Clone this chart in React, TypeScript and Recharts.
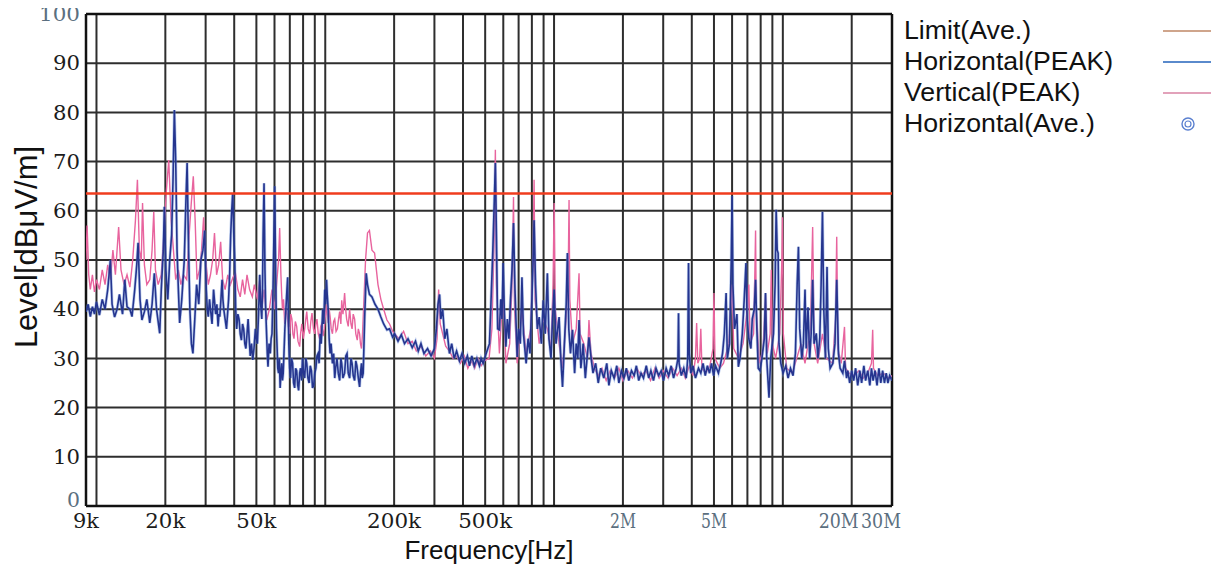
import { CartesianGrid, Line, LineChart, ReferenceLine, XAxis, YAxis } from 'recharts';

// Frequency axis in kHz, level in dBµV/m.
const tickFreqs = [9, 20, 50, 200, 500, 2000, 5000, 20000, 30000];
const tickLabels = ['9k', '20k', '50k', '200k', '500k', '2M', '5M', '20M', '30M'];
const levelTicks = [0, 10, 20, 30, 40, 50, 60, 70, 80, 90, 100];
const gridFreqs = [
  10, 20, 30, 40, 50, 60, 70, 80, 90,
  100, 200, 300, 400, 500, 600, 700, 800, 900,
  1000, 2000, 3000, 4000, 5000, 6000, 7000, 8000, 9000,
  10000, 20000,
];
const limitLevel = 63.5;
const legendNames = ['Limit(Ave.)', 'Horizontal(PEAK)', 'Vertical(PEAK)', 'Horizontal(Ave.)'];

// Horizontal (PEAK) trace, [kHz, dB]
const hLow: [number, number][] = [
  [9.0, 39.5], [9.2, 41], [9.4, 38.5], [9.6, 40.5], [9.8, 39], [10.0, 41.5], [10.3, 38.8], [10.6, 42],
  [10.9, 40], [11.2, 44], [11.5, 50], [11.7, 41], [12.0, 38.4], [12.3, 40], [12.6, 43], [13.0, 39],
  [13.3, 46], [13.6, 40.5], [14.0, 40], [14.3, 38.5], [14.7, 44], [15.0, 49], [15.2, 53.5], [15.5, 42],
  [15.8, 37.8], [16.2, 39.5], [16.6, 42], [17.1, 37.2], [17.5, 41], [17.9, 47.3], [18.3, 40], [18.9, 35.1],
  [19.2, 44], [19.6, 52], [19.8, 60.8], [20.1, 48], [20.5, 42], [20.9, 50], [21.3, 55], [21.6, 66],
  [21.9, 80.5], [22.2, 70], [22.5, 52], [22.8, 44], [23.1, 37.2], [23.6, 42], [24.2, 50], [24.6, 62],
  [24.9, 69.7], [25.2, 55], [25.6, 40], [26.0, 33], [26.4, 31], [26.9, 38], [27.4, 45], [28.0, 41],
  [28.6, 50], [29.2, 52], [29.7, 56], [30.2, 44], [30.5, 40], [30.8, 38.5], [31.2, 42], [31.5, 40],
  [32.0, 37], [32.5, 44], [32.9, 41], [33.2, 39], [33.6, 41], [34.0, 36.5], [34.3, 39], [34.6, 38.5],
  [35.0, 42], [35.4, 46], [35.7, 42], [36.0, 40], [36.5, 38], [37.0, 36], [37.4, 39], [37.8, 42],
  [38.2, 47], [38.6, 55], [39.0, 60], [39.4, 63.6], [39.8, 56], [40.2, 50], [40.6, 40], [41.0, 36],
  [41.5, 39], [42.0, 38], [42.5, 35], [43.0, 33.7], [43.5, 37], [44.0, 36], [44.5, 33], [45.0, 32],
  [45.5, 35], [46.0, 38], [46.5, 34], [47.0, 30.5], [47.6, 33], [48.2, 29.7], [48.8, 32], [49.5, 36],
  [50.0, 34], [50.5, 33], [51.1, 39], [51.7, 47], [52.2, 41], [52.8, 38], [53.2, 45], [53.5, 55],
  [54.0, 65.6], [54.5, 48], [54.9, 40], [55.3, 36], [55.8, 31], [56.2, 28.3], [56.8, 33], [57.5, 31],
  [58.0, 34], [58.5, 35], [59.0, 42], [59.4, 50], [59.8, 58], [60.1, 65], [60.8, 45], [61.2, 36],
  [61.6, 32], [62.0, 28], [62.5, 27], [63.0, 30], [63.5, 24], [64.0, 27], [64.5, 29], [65.0, 25.5],
  [65.5, 27], [66.0, 31], [66.6, 36], [67.3, 40], [68.0, 44], [68.5, 46.5], [69.0, 38], [69.3, 33],
  [69.9, 28], [70.5, 26], [71.2, 30], [72, 29], [72.7, 25], [73.5, 24], [74.2, 28], [75, 27.5],
  [75.8, 24.5], [76.5, 23.5], [77.3, 27], [78, 28], [78.8, 25.5], [79.5, 30], [80.4, 27], [81.3, 26],
  [82.2, 30], [83, 29], [84, 26], [85, 25], [86, 28.5], [87, 27.5], [88, 24], [89, 24.5],
  [90, 27], [91, 28], [92, 30.5], [93, 31], [94, 29], [95, 35], [96, 33], [97.5, 40],
  [98.5, 37], [99.5, 44], [100.4, 41], [101.3, 46], [102, 43], [103, 40], [104, 34], [105, 31],
  [106, 33], [107.5, 29], [108.8, 31], [110, 26], [111, 28], [112.5, 30], [114, 27], [115.6, 25.5],
  [117, 30], [118, 29], [119.5, 26], [121.5, 27], [123, 30.5], [124.5, 31], [126, 27], [127.8, 26],
  [129.5, 30], [131, 29], [132.5, 26.5], [134.4, 25.5], [136, 29.5], [137.5, 28.5], [139.5, 26], [141.3, 24.2],
  [142.5, 27], [144, 29], [145, 26], [146.5, 27], [147.5, 32], [148.6, 38], [151, 47.3], [153, 45],
  [156, 43], [160, 42.5], [165, 41], [170, 40], [175, 38.4], [180, 37], [186, 35.8], [191, 36],
  [197, 34.3],
];

const hMid: [number, number][] = [
  [201, 35], [208, 33.5], [215, 34.8], [222, 33], [230, 34], [240, 32.2], [248, 33.5], [255, 31.5],
  [262, 33], [270, 31], [280, 32], [290, 30.5], [300, 32], [306, 36], [311, 41], [316, 43],
  [320, 38], [326, 40], [333, 34], [340, 36], [349, 31], [357, 33], [366, 30], [375, 31.5],
  [386, 29.5], [396, 31], [407, 29], [418, 30.5], [427, 28.5], [437, 30.5], [448, 28.5], [460, 30],
  [472, 28.5], [480, 30], [490, 29], [505, 31], [522, 33], [530, 41.3], [540, 52], [548, 62],
  [554, 69.7], [560, 55], [567, 36], [577, 35.8], [585, 42], [592, 38], [599, 49.4], [606, 40],
  [616, 32.4], [625, 38], [635, 34], [645, 42], [655, 48], [665, 57.5], [675, 44], [690, 30.3],
  [700, 36], [712, 33], [724, 46.5], [735, 35], [755, 29], [770, 34], [785, 31], [800, 42],
  [810, 50], [818, 58.1], [830, 45], [845, 36], [861, 38.4], [880, 33], [897, 41.8], [915, 35],
  [935, 47.3], [950, 34], [970, 30], [985, 38], [1001, 44], [1020, 33], [1052, 38.4], [1070, 30],
  [1089, 24.2], [1110, 33], [1130, 41], [1144, 51.4], [1160, 36], [1180, 31], [1204, 35.8], [1230, 27],
  [1250, 33], [1270, 30], [1286, 37.8], [1310, 28], [1340, 33], [1370, 26], [1400, 31],
];

const hHigh: [number, number][] = [
  [1421, 34.3], [1450, 30.3], [1480, 27], [1520, 29], [1560, 25], [1600, 28], [1650, 26], [1700, 29],
  [1737, 24.5], [1780, 27.5], [1830, 26], [1880, 28.5], [1920, 25], [1970, 27.5], [2020, 26], [2070, 28],
  [2122, 25.5], [2180, 27.5], [2240, 26.5], [2290, 28.5], [2345, 25.5], [2400, 27], [2460, 26], [2530, 28.5],
  [2593, 26], [2650, 27.5], [2720, 25.5], [2790, 28], [2866, 26.5], [2940, 27.5], [3010, 25.5], [3090, 28],
  [3168, 26.5], [3250, 28.5], [3330, 26], [3420, 28], [3480, 30], [3500, 39.2], [3520, 29], [3600, 26.5],
  [3690, 28], [3780, 26], [3840, 30], [3871, 49.4], [3900, 31], [3960, 27], [4050, 28.5], [4150, 26],
  [4279, 28], [4380, 27], [4480, 29], [4580, 26.5], [4680, 28.5], [4780, 27], [4880, 29], [4980, 26.5],
  [5080, 28.5], [5229, 27], [5350, 29], [5450, 31], [5550, 35], [5650, 43.3], [5720, 30], [5850, 33],
  [5950, 50], [6000, 63], [6050, 45], [6150, 36], [6300, 39], [6390, 28.3], [6500, 30], [6650, 35],
  [6780, 42], [6900, 49.4], [6980, 38], [7100, 34], [7250, 32], [7350, 38], [7500, 40], [7600, 46],
  [7700, 36], [7806, 28], [7950, 27.5], [8100, 30], [8300, 34], [8400, 43.3], [8500, 30], [8700, 22],
  [8850, 30], [9100, 35], [9250, 45], [9350, 60.2], [9450, 52], [9537, 51.4], [9620, 33], [9800, 29],
  [10027, 27], [10300, 28.5], [10542, 26], [10800, 28], [11083, 26.5], [11350, 31], [11550, 45], [11700, 52.7],
  [11850, 36], [12100, 30], [12300, 33], [12500, 44], [12650, 32], [12880, 40.4], [13100, 30], [13300, 35],
  [13500, 46], [13700, 33], [14000, 35.1], [14236, 30], [14500, 34], [14700, 45], [14900, 59.8], [15100, 40],
  [15350, 30], [15600, 48.6], [15800, 32], [16100, 28], [16544, 29], [16900, 33], [17200, 46], [17500, 31],
  [17800, 28], [18286, 27], [18600, 29.5], [19000, 26], [19225, 27.5], [19600, 25], [20000, 27.5], [20400, 25.5],
  [20800, 28], [21250, 24.5], [21700, 27.5], [22100, 25], [22600, 28.5], [23000, 25.5], [23500, 27.5], [24000, 24.5],
  [24400, 28], [24800, 25.5], [25300, 27.5], [25800, 24.5], [26300, 28], [26800, 25], [27300, 27.5], [27800, 25],
  [28300, 27], [28800, 25], [29300, 26.5], [30000, 25.5],
];

// Vertical (PEAK) trace, [kHz, dB]
const vLow: [number, number][] = [
  [9.0, 50], [9.1, 57], [9.25, 47], [9.4, 44], [9.6, 47], [9.8, 43.5], [10.0, 46], [10.3, 44],
  [10.6, 48], [10.9, 45], [11.2, 49], [11.5, 46], [11.8, 52], [12.1, 47], [12.5, 56.7], [12.8, 48],
  [13.2, 45], [13.6, 47], [14.0, 44.5], [14.4, 50], [14.8, 58], [15.1, 66.3], [15.4, 52], [15.7, 50],
  [15.9, 61.6], [16.2, 49], [16.6, 45], [17.1, 46], [17.5, 52], [17.8, 59.8], [18.1, 48], [18.6, 45],
  [19.2, 47], [19.7, 55], [20.2, 64], [20.7, 70.3], [21.2, 58], [21.7, 52], [22.2, 46], [22.8, 48],
  [23.4, 45], [24.0, 47], [24.8, 46], [25.4, 55], [26.0, 62], [26.5, 67], [27.0, 58], [27.5, 46],
  [28.2, 48], [28.8, 52], [29.4, 58.7], [30.0, 50], [30.8, 45], [31.5, 47], [32.2, 50], [32.8, 55.5],
  [33.5, 47], [34.2, 49], [34.9, 53.7], [35.6, 46], [36.5, 44], [37.5, 47], [38.5, 45], [39.5, 46.5],
  [40.5, 47.3], [41.5, 44], [42.5, 42.5], [43.5, 46], [44.5, 43], [45.5, 47], [46.7, 44], [48, 42.5],
  [49, 45], [50.5, 42], [51.7, 46], [52.8, 40], [54, 44], [55.5, 37.8], [57, 40], [58.5, 44],
  [60.1, 40], [61.5, 46], [62.5, 50], [63.2, 56.5], [64, 47], [64.5, 43], [65, 40], [65.7, 42],
  [66.5, 37], [67.2, 40], [68, 39], [69, 36.5], [69.9, 35], [70.7, 39], [71.5, 38], [72.2, 35],
  [73, 34], [74, 37.5], [75, 36.5], [76, 33.5], [77.3, 32.4], [78, 35], [79, 37], [80.2, 34],
  [81.3, 36], [82.2, 38], [83, 39.5], [84.2, 36], [85.5, 35], [86.5, 37.5], [87.5, 39.2], [88.8, 36],
  [90, 35], [91, 37], [92, 38], [93.2, 35], [94.5, 34], [95.5, 36.5], [96.5, 37], [97.8, 34.5],
  [99, 36], [100, 38.5], [101.3, 41], [102, 39], [103, 37.2], [104, 40], [105, 38.5], [106.2, 36],
  [107.5, 35], [108.8, 37.5], [110, 38], [111.5, 35.5], [113, 36], [114.3, 38], [115.6, 39.5], [117, 37],
  [118, 41.8], [119.5, 39], [121.5, 43.3], [122.8, 40], [124, 38], [126, 36.5], [127.8, 40], [129.5, 37],
  [131, 36], [132.5, 39], [134.4, 38], [136, 35], [138, 33.7], [139.5, 36], [141.3, 35], [142.5, 33],
  [144, 32], [145.5, 35], [147, 40], [150, 50], [153, 55.5], [156, 56], [160, 52], [164.3, 51.4],
  [170, 45], [175, 42], [180, 40], [186, 37.8], [191, 37], [197, 35.5],
];

const vMid: [number, number][] = [
  [201, 35], [210, 34], [220, 35.5], [230, 33], [240, 33.5], [250, 31.5], [262, 32.5], [275, 30.5],
  [288, 31.5], [300, 30], [308, 34], [313, 44], [318, 37], [326, 35], [336, 32.5], [349, 31.5],
  [362, 30], [375, 30.5], [390, 29], [405, 30.5], [420, 28], [435, 29.5], [450, 28], [465, 30],
  [480, 28.5], [495, 29.5], [520, 30], [535, 36], [548, 55], [554, 72.4], [560, 45], [577, 31],
  [599, 44], [616, 29], [640, 33], [655, 45], [665, 62.8], [672, 40], [690, 29], [724, 40],
  [755, 31], [790, 36], [810, 50], [818, 66.3], [826, 42], [861, 33], [897, 38], [935, 36],
  [970, 32], [990, 45], [1001, 61.6], [1012, 40], [1052, 33], [1089, 28], [1130, 38], [1155, 50],
  [1163, 62.2], [1172, 42], [1204, 33], [1250, 36], [1286, 47.3], [1300, 35], [1350, 33], [1400, 30],
];

const vHigh: [number, number][] = [
  [1421, 37.8], [1450, 31], [1500, 28], [1560, 26.5], [1620, 28], [1690, 25.5], [1760, 27.5], [1840, 26],
  [1920, 28], [2000, 25.5], [2100, 27.5], [2200, 26], [2300, 28], [2400, 26.5], [2520, 27.5], [2640, 25.5],
  [2760, 28], [2880, 26], [3000, 27.5], [3150, 26], [3300, 28], [3450, 26.5], [3600, 28], [3750, 26],
  [3900, 28.5], [4050, 26.5], [4150, 30], [4200, 37.2], [4250, 29], [4330, 30], [4380, 36], [4430, 28],
  [4600, 27], [4800, 28.5], [4950, 32], [5000, 43.3], [5050, 30], [5300, 28], [5500, 29], [5800, 33],
  [6000, 45], [6100, 32], [6400, 30], [6700, 33], [7000, 40], [7100, 45], [7200, 33], [7450, 35],
  [7550, 48], [7600, 56], [7650, 40], [7900, 29], [8200, 32], [8400, 43], [8550, 31], [8800, 35],
  [8900, 48], [9000, 33], [9300, 30], [9700, 35], [9900, 50], [9960, 58.7], [10050, 35], [10400, 28],
  [11000, 27], [11500, 30], [12000, 33], [12500, 29], [13200, 36], [13500, 56.7], [13700, 33], [14200, 29],
  [14900, 35], [15500, 30], [16500, 29], [17000, 38], [17200, 54.7], [17400, 32], [18000, 29], [18600, 36.4],
  [18800, 28], [19500, 27], [20500, 26.5], [21500, 27.5], [22500, 26], [23500, 27], [24400, 29], [24700, 35.8],
  [24900, 28], [26000, 26.5], [27500, 27], [29000, 26], [30000, 26.5],
];

const toRows = (pts: [number, number][]) => pts.map(([f, v]) => ({ f, v }));
const horizontalRows = toRows([...hLow, ...hMid, ...hHigh]);
const verticalRows = toRows([...vLow, ...vMid, ...vHigh]);

const GRID = '#2e2e2e';
const BLUE_GREY = '#5b6f80';
const greyLabels = ['100', '0', '2M', '5M', '20M', '30M'];
// the last two labels crowd each other, so they sit a bit left of their ticks
const tickShift: Record<string, number> = { '20M': -13, '30M': -11 };

const FreqTick = (props: any) => {
  const { x, y, payload } = props;
  const label = tickLabels[tickFreqs.indexOf(payload.value)] ?? '';
  return (
    <text x={x + (tickShift[label] ?? 0)} y={y} dy="0.8em" textAnchor="middle" fontFamily="DejaVu Serif"
      fontSize={20} textLength={label.length * 14 - 2} lengthAdjust="spacingAndGlyphs"
      fill={greyLabels.includes(label) ? BLUE_GREY : '#1c1c1c'}>
      {label}
    </text>
  );
};

const LevelTick = (props: any) => {
  const { x, y, payload } = props;
  const label = String(payload.value);
  return (
    <text x={x} y={payload.value === 0 ? y - 6 : y} dy="0.36em" textAnchor="end" fontFamily="DejaVu Serif"
      fontSize={20} textLength={label.length * 14 - 1} lengthAdjust="spacingAndGlyphs"
      fill={greyLabels.includes(label) ? BLUE_GREY : '#1c1c1c'}>
      {label}
    </text>
  );
};

const legendSwatch = (i: number) => {
  if (i === 3) {
    return (
      <svg width={48} height={20}>
        <circle cx={25} cy={10} r={6} fill="none" stroke="#5b80d0" strokeWidth={1.4} />
        <circle cx={25} cy={10} r={3} fill="none" stroke="#5b80d0" strokeWidth={1.2} />
      </svg>
    );
  }
  const colors = ['#cfa58c', '#5a8acc', '#e2a2ba'];
  return (
    <svg width={48} height={20}>
      <line x1={0} x2={48} y1={10} y2={10} stroke={colors[i]} strokeWidth={2} />
    </svg>
  );
};

export default function App() {
  return (
    <div style={{ position: 'relative', width: 1219, height: 567, margin: '-8px 0 0 -8px', background: '#fff' }}>
      <LineChart width={1219} height={567} margin={{ top: 14, right: 327, bottom: 31, left: 26 }}>
        <CartesianGrid vertical={false} stroke={GRID} strokeWidth={2} />
        <XAxis dataKey="f" type="number" scale="log" domain={[9, 30000]} ticks={tickFreqs} interval={0}
          allowDataOverflow axisLine={false} tickLine={false} tickSize={0} tickMargin={6} height={30}
          tick={<FreqTick />} />
        <YAxis type="number" domain={[0, 100]} ticks={levelTicks} interval={0} axisLine={false}
          tickLine={false} tickSize={0} tickMargin={6} width={60} tick={<LevelTick />} />
        {gridFreqs.map(f => (
          <ReferenceLine key={f} x={f} stroke={GRID} strokeWidth={2} />
        ))}
        <ReferenceLine x={9} stroke="#111" strokeWidth={2.5} />
        <ReferenceLine x={30000} stroke="#111" strokeWidth={2.5} />
        <ReferenceLine y={0} stroke="#111" strokeWidth={2.5} />
        <ReferenceLine y={100} stroke="#111" strokeWidth={2.5} />
        <Line data={verticalRows} dataKey="v" type="linear" stroke="#e8649e" strokeWidth={1.4}
          dot={false} isAnimationActive={false} />
        {/* soft lighter-blue halo under the horizontal trace, as in the scanned plot */}
        <Line data={horizontalRows} dataKey="v" type="linear" stroke="#6f95dc" strokeOpacity={0.45}
          strokeWidth={3} dot={false} isAnimationActive={false} />
        <Line data={horizontalRows} dataKey="v" type="linear" stroke="#25358f" strokeWidth={1.6}
          dot={false} isAnimationActive={false} />
        <ReferenceLine y={limitLevel} stroke="#f03c1e" strokeWidth={2.5} />
      </LineChart>

      <div style={{
        position: 'absolute', left: 27, top: 247, transform: 'translate(-50%, -50%) rotate(-90deg)',
        fontFamily: 'Liberation Sans', fontSize: 31, lineHeight: '32px', color: '#111', whiteSpace: 'nowrap',
      }}>
        Level[dBμV/m]
      </div>
      <div style={{
        position: 'absolute', left: 489, top: 535, transform: 'translateX(-50%)',
        fontFamily: 'Liberation Sans', fontSize: 26, lineHeight: '30px', color: '#111', whiteSpace: 'nowrap',
      }}>
        Frequency[Hz]
      </div>

      <div style={{ position: 'absolute', left: 904, top: 15, fontFamily: 'Liberation Sans', fontSize: 26.7, color: '#111' }}>
        {legendNames.map(name => (
          <div key={name} style={{ height: 31, lineHeight: '31px', whiteSpace: 'nowrap' }}>{name}</div>
        ))}
      </div>
      <div style={{ position: 'absolute', left: 1163, top: 15 }}>
        {legendNames.map((name, i) => (
          <div key={name} style={{ height: 31, display: 'flex', alignItems: 'center' }}>{legendSwatch(i)}</div>
        ))}
      </div>
    </div>
  );
}
